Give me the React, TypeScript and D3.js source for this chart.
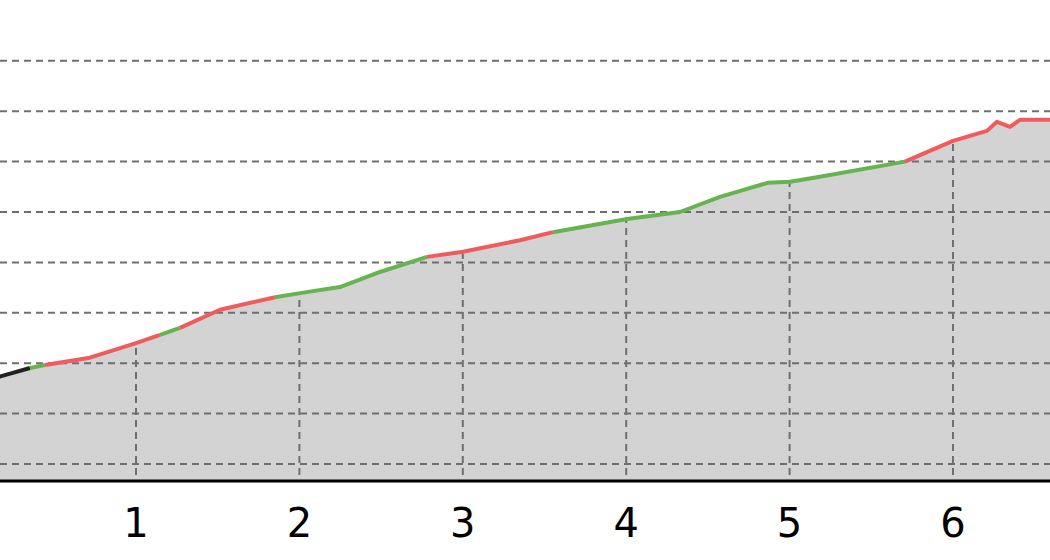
import React, { useRef, useEffect } from "react";
import * as d3 from "d3";

// values (y in arbitrary units, gridlines at 10..90)
const X_VALUES = [
  0.15, 0.351, 0.443, 0.718, 1.0, 1.147, 1.269, 1.514, 1.851, 2.004, 2.248,
  2.493, 2.781, 3.001, 3.35, 3.552, 4.005, 4.329, 4.574, 4.868, 5.002, 5.185,
  5.706, 6.0, 6.208, 6.269, 6.349, 6.41, 6.624,
];
const Y_VALUES = [
  27.2, 29.05, 29.64, 31.1, 34.0, 35.6, 37.0, 40.6, 43.1, 43.9, 45.1, 48.1,
  51.1, 52.1, 54.4, 56.0, 58.6, 60.0, 63.0, 65.8, 66.0, 67.0, 70.0, 74.1,
  76.1, 77.9, 76.9, 78.3, 78.3,
];
// state of the segment that starts at each point (k = flat, g = up, r = down)
const SEGMENT_STATE = [
  "k", "g", "r", "r", "r", "g", "r", "r", "g", "g", "g", "g", "r", "r", "r",
  "g", "g", "g", "g", "g", "g", "g", "r", "r", "r", "r", "r", "r",
];
const X_TICKS = [1, 2, 3, 4, 5, 6];
const Y_GRID = [10, 20, 30, 40, 50, 60, 70, 80, 90];

const STATE_COLORS: Record<string, string> = {
  k: "#222222",
  g: "#66b34f",
  r: "#f05b5b",
};

export default function App() {
  const svgRef = useRef<SVGSVGElement>(null);
  const width = 1050;
  const height = 560;

  useEffect(() => {
    if (!svgRef.current) return;
    const svg = d3.select(svgRef.current);
    svg.selectAll("*").remove();

    const xScale = d3.scaleLinear().domain([1, 6]).range([136, 953]);
    const yScale = d3.scaleLinear().domain([10, 90]).range([464, 60.8]);
    const yMin = 6.63;
    const bottom = yScale(yMin);

    const points = X_VALUES.map((x, i) => ({ x, y: Y_VALUES[i] }));

    const area = d3
      .area<{ x: number; y: number }>()
      .x((d) => xScale(d.x))
      .y0(bottom)
      .y1((d) => yScale(d.y));

    // grey fill under the line
    svg
      .append("path")
      .datum(points)
      .attr("d", area)
      .attr("fill", "#d3d3d3");

    svg
      .append("clipPath")
      .attr("id", "under-line")
      .append("path")
      .datum(points)
      .attr("d", area);

    // horizontal grid
    svg
      .append("g")
      .selectAll("line")
      .data(Y_GRID)
      .join("line")
      .attr("x1", 0)
      .attr("x2", width)
      .attr("y1", (d) => yScale(d))
      .attr("y2", (d) => yScale(d))
      .attr("stroke", "#6f6f6f")
      .attr("stroke-width", 2)
      .attr("stroke-dasharray", "7,5");

    // vertical grid, only visible under the line
    svg
      .append("g")
      .attr("clip-path", "url(#under-line)")
      .selectAll("line")
      .data(X_TICKS)
      .join("line")
      .attr("x1", (d) => xScale(d))
      .attr("x2", (d) => xScale(d))
      .attr("y1", 0)
      .attr("y2", bottom)
      .attr("stroke", "#6f6f6f")
      .attr("stroke-width", 2)
      .attr("stroke-dasharray", "7,5");

    // coloured line, one path per run of equal state
    const line = d3
      .line<{ x: number; y: number }>()
      .x((d) => xScale(d.x))
      .y((d) => yScale(d.y));

    let start = 0;
    for (let i = 1; i <= SEGMENT_STATE.length; i++) {
      if (i === SEGMENT_STATE.length || SEGMENT_STATE[i] !== SEGMENT_STATE[start]) {
        svg
          .append("path")
          .datum(points.slice(start, i + 1))
          .attr("d", line)
          .attr("fill", "none")
          .attr("stroke", STATE_COLORS[SEGMENT_STATE[start]])
          .attr("stroke-width", 4)
          .attr("stroke-linejoin", "round");
        start = i;
      }
    }

    // bottom axis
    svg
      .append("line")
      .attr("x1", 0)
      .attr("x2", width)
      .attr("y1", bottom)
      .attr("y2", bottom)
      .attr("stroke", "#000")
      .attr("stroke-width", 3);

    svg
      .append("g")
      .selectAll("text")
      .data(X_TICKS)
      .join("text")
      .attr("x", (d) => xScale(d))
      .attr("y", 537)
      .attr("text-anchor", "middle")
      .style("font-family", "DejaVu Sans")
      .style("font-size", "40px")
      .style("fill", "#000")
      .text((d) => `${d}`);
  }, []);

  return (
    <svg
      ref={svgRef}
      width={width}
      height={height}
      style={{ position: "absolute", left: 0, top: 0, background: "#fff" }}
      viewBox={`0 0 ${width} ${height}`}
    />
  );
}
